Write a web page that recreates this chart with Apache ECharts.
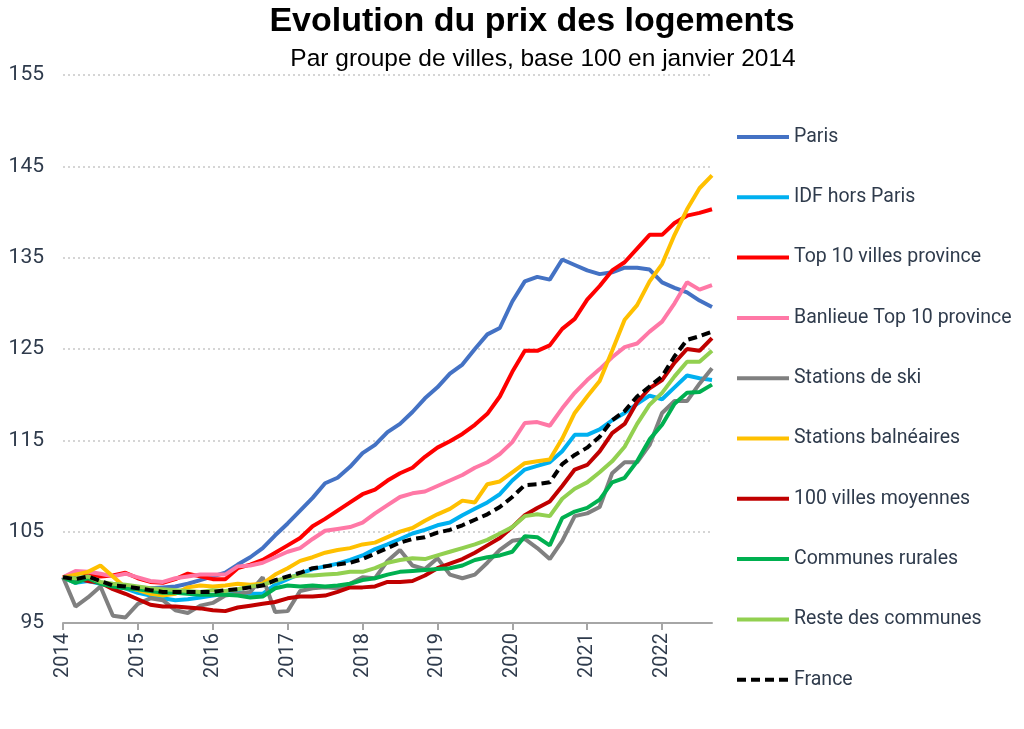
<!DOCTYPE html>
<html>
<head>
<meta charset="utf-8">
<script src="https://cdn.jsdelivr.net/npm/echarts@6/dist/echarts.min.js"></script>
<style>
  html, body { margin: 0; padding: 0; background: #fff; }
  #chart { width: 1024px; height: 729px; }
</style>
</head>
<body>
<div id="chart"></div>
<script>
// bimonthly readings, Jan 2014 -> Sep 2022 (Jan, Mar, May, Jul, Sep, Nov)
var firstYear = 2014;
var yearTicks = [2014, 2015, 2016, 2017, 2018, 2019, 2020, 2021, 2022];

var names = ['Paris', 'IDF hors Paris', 'Top 10 villes province', 'Banlieue Top 10 province',
  'Stations de ski', 'Stations balnéaires', '100 villes moyennes', 'Communes rurales',
  'Reste des communes', 'France'];

var paris = [
  100, 99.8, 99.6, 99.4, 99.2, 99.0,
  98.9, 98.8, 98.9, 99.0, 99.3, 99.7,
  100.1, 100.5, 101.4, 102.2, 103.2, 104.6,
  105.9, 107.3, 108.7, 110.3, 110.9, 112.1,
  113.6, 114.5, 115.9, 116.8, 118.1, 119.6,
  120.8, 122.3, 123.3, 125.0, 126.6, 127.3,
  130.2, 132.4, 132.9, 132.6, 134.8, 134.2,
  133.6, 133.2, 133.4, 133.9, 133.9, 133.7,
  132.3, 131.7, 131.2, 130.3, 129.6
];
var idf = [
  100, 99.4, 99.6, 99.3, 99.0, 98.8,
  98.3, 98.0, 97.7, 97.5, 97.6, 97.8,
  98.0, 98.2, 98.4, 98.2, 98.2, 99.2,
  99.8, 100.4, 100.9, 101.2, 101.5, 101.9,
  102.4, 103.1, 103.6, 104.2, 104.8, 105.2,
  105.7, 106.0, 106.8, 107.5, 108.2, 109.1,
  110.6, 111.8, 112.2, 112.6, 113.8, 115.6,
  115.6, 116.2, 117.2, 118.0, 119.0, 119.9,
  119.5, 120.8, 122.1, 121.8, 121.6
];
var top10 = [
  100, 100.5, 100.4, 100.1, 100.2, 100.5,
  99.9, 99.5, 99.4, 99.8, 100.4, 100.1,
  99.8, 99.8, 101.0, 101.4, 101.9, 102.7,
  103.5, 104.3, 105.6, 106.4, 107.3, 108.2,
  109.1, 109.6, 110.6, 111.4, 112.0, 113.2,
  114.2, 114.9, 115.7, 116.7, 117.9, 119.8,
  122.5, 124.8, 124.8, 125.4, 127.2, 128.3,
  130.4, 131.9, 133.6, 134.5, 136.0, 137.5,
  137.5, 138.8, 139.6, 139.9, 140.3
];
var banlieue = [
  100, 100.7, 100.6, 100.4, 100.1, 100.4,
  100.0, 99.6, 99.5, 99.9, 100.1, 100.3,
  100.3, 100.3, 101.2, 101.3, 101.6, 102.2,
  102.8, 103.2, 104.2, 105.1, 105.3, 105.5,
  106.0, 107.0, 107.9, 108.8, 109.2, 109.4,
  110.0, 110.6, 111.2, 112.0, 112.6, 113.5,
  114.8, 116.9, 117.0, 116.6, 118.5, 120.2,
  121.6, 122.8, 124.1, 125.2, 125.6, 126.9,
  128.0, 130.0, 132.3, 131.5, 132.0
];
var ski = [
  100, 96.8, 97.8, 99.0, 95.8, 95.6,
  97.1, 97.7, 97.5, 96.4, 96.1, 96.9,
  97.2, 98.0, 98.2, 98.4, 100.0, 96.2,
  96.3, 98.5, 98.8, 98.9, 98.8, 99.3,
  100.0, 99.9, 101.8, 103.0, 101.3, 100.9,
  102.1, 100.3, 99.9, 100.3, 101.6, 103.0,
  104.0, 104.2, 103.2, 102.0, 104.0, 106.7,
  107.0, 107.7, 111.4, 112.6, 112.6, 114.5,
  118.0, 119.3, 119.3, 121.2, 122.9
];
var balneaires = [
  100, 100.3, 100.6, 101.3, 100.1, 98.9,
  98.6, 98.2, 98.0, 98.2, 98.9, 99.1,
  99.0, 99.1, 99.3, 99.2, 99.3, 100.3,
  101.0, 101.8, 102.2, 102.7, 103.0, 103.2,
  103.6, 103.8, 104.4, 105.0, 105.4, 106.2,
  106.9, 107.5, 108.4, 108.2, 110.2, 110.5,
  111.5, 112.5, 112.7, 112.9, 115.2, 118.0,
  119.8, 121.5, 124.8, 128.2, 129.8, 132.4,
  134.3, 137.5, 140.3, 142.6, 144.0
];
var moyennes = [
  100, 99.9, 99.6, 99.4, 98.7, 98.2,
  97.6, 97.0, 96.8, 96.8, 96.7, 96.6,
  96.4, 96.3, 96.7, 96.9, 97.1, 97.3,
  97.7, 97.9, 97.9, 98.0, 98.4, 98.9,
  98.9, 99.0, 99.5, 99.5, 99.6, 100.2,
  101.0, 101.5, 102.0, 102.7, 103.5, 104.3,
  105.5, 106.8, 107.6, 108.3, 110.0, 111.8,
  112.3, 113.8, 115.8, 116.8, 119.2, 120.7,
  121.6, 123.5, 125.0, 124.8, 126.2
];
var rurales = [
  100, 99.4, 99.9, 99.3, 99.0, 98.8,
  98.7, 98.5, 98.3, 98.3, 98.2, 98.1,
  98.1, 98.1, 98.0, 97.8, 97.9, 98.8,
  99.1, 99.0, 99.1, 99.0, 99.1, 99.3,
  99.7, 99.9, 100.3, 100.6, 100.7, 100.8,
  100.9, 101.0, 101.3, 101.9, 102.2, 102.4,
  102.8, 104.5, 104.4, 103.5, 106.5, 107.2,
  107.6, 108.5, 110.4, 110.9, 112.7, 115.1,
  116.7, 119.0, 120.2, 120.3, 121.1
];
var reste = [
  100, 99.9, 100.1, 99.5, 99.3, 99.2,
  99.0, 98.8, 98.7, 98.6, 98.5, 98.4,
  98.6, 98.5, 98.7, 99.0, 99.2, 99.6,
  100.0, 100.2, 100.2, 100.3, 100.4, 100.6,
  100.6, 101.0, 101.6, 101.9, 102.1, 102.0,
  102.4, 102.8, 103.2, 103.6, 104.1, 104.8,
  105.5, 106.7, 106.9, 106.7, 108.6, 109.7,
  110.4, 111.5, 112.7, 114.3, 116.8, 118.9,
  120.2, 122.0, 123.6, 123.6, 124.8
];
var france = [
  100, 99.8, 100.1, 99.6, 99.1, 99.0,
  98.8, 98.6, 98.4, 98.4, 98.4, 98.4,
  98.4, 98.6, 98.7, 98.9, 99.1, 99.7,
  100.1, 100.5, 101.0, 101.2, 101.4, 101.6,
  102.0, 102.6, 103.2, 103.8, 104.2, 104.4,
  104.9, 105.2, 105.7, 106.3, 106.9, 107.7,
  108.8, 110.1, 110.2, 110.4, 112.4, 113.4,
  114.2, 115.4, 117.2, 118.2, 119.8, 120.9,
  122.0, 124.2, 126.0, 126.4, 126.9
];

var allValues = [paris, idf, top10, banlieue, ski, balneaires, moyennes, rurales, reste, france];
var colors = ['#4472C4', '#00B0F0', '#FF0000', '#FF78A6', '#808080',
  '#FFC000', '#C00000', '#00B050', '#92D050', '#000000'];

var textColor = '#2f3b4c';

// point i is i*2 months after Jan 2014 -> decimal year
function pairs(values) {
  var out = [];
  for (var i = 0; i < values.length; i++) {
    out.push([firstYear + i / 6, values[i]]);
  }
  return out;
}

var series = [];
for (var s = 0; s < names.length; s++) {
  series.push({
    name: names[s],
    type: 'line',
    data: pairs(allValues[s]),
    symbol: 'none',
    lineStyle: {
      color: colors[s],
      width: 4,
      type: names[s] === 'France' ? [9, 5] : 'solid'
    },
    itemStyle: { color: colors[s] },
    emphasis: { disabled: true },
    animation: false
  });
}

var chart = echarts.init(document.getElementById('chart'));
chart.setOption({
  backgroundColor: '#ffffff',
  title: [
    {
      text: 'Evolution du prix des logements',
      left: 527,
      top: 0,
      textAlign: 'center',
      textStyle: { fontFamily: 'Liberation Sans', fontWeight: 'bold', fontSize: 34, color: '#000' }
    },
    {
      text: 'Par groupe de villes, base 100 en janvier 2014',
      left: 538,
      top: 42,
      textAlign: 'center',
      textStyle: { fontFamily: 'Liberation Sans', fontWeight: 'normal', fontSize: 24.5, color: '#000' }
    }
  ],
  legend: {
    orient: 'vertical',
    left: 730,
    top: 122,
    itemWidth: 52,
    itemHeight: 20,
    itemGap: 40.3,
    itemStyle: { opacity: 0 },
    lineStyle: { width: 4 },
    textStyle: { fontFamily: 'Roboto', fontSize: 19.5, color: textColor },
    data: names
  },
  grid: { left: 63, right: 312, top: 75, bottom: 106 },
  xAxis: {
    type: 'value',
    min: 2014,
    max: firstYear + 52 / 6,
    interval: 1,
    axisLine: { lineStyle: { color: '#a6a6a6', width: 2 } },
    axisTick: { show: true, length: 7, lineStyle: { color: '#a6a6a6', width: 2 }, customValues: yearTicks },
    axisLabel: {
      rotate: 90,
      margin: 10,
      customValues: yearTicks,
      fontFamily: 'Roboto',
      fontSize: 20,
      color: textColor,
      formatter: function (v) { return String(v); }
    },
    splitLine: { show: false }
  },
  yAxis: {
    type: 'value',
    min: 95,
    max: 155,
    interval: 10,
    axisLine: { show: false },
    axisTick: { show: false },
    axisLabel: { margin: 19, fontFamily: 'Roboto', fontSize: 21, color: textColor },
    splitLine: { lineStyle: { color: '#c8c8c8', type: [2, 3], width: 1.5 } }
  },
  series: series
});
</script>
</body>
</html>
